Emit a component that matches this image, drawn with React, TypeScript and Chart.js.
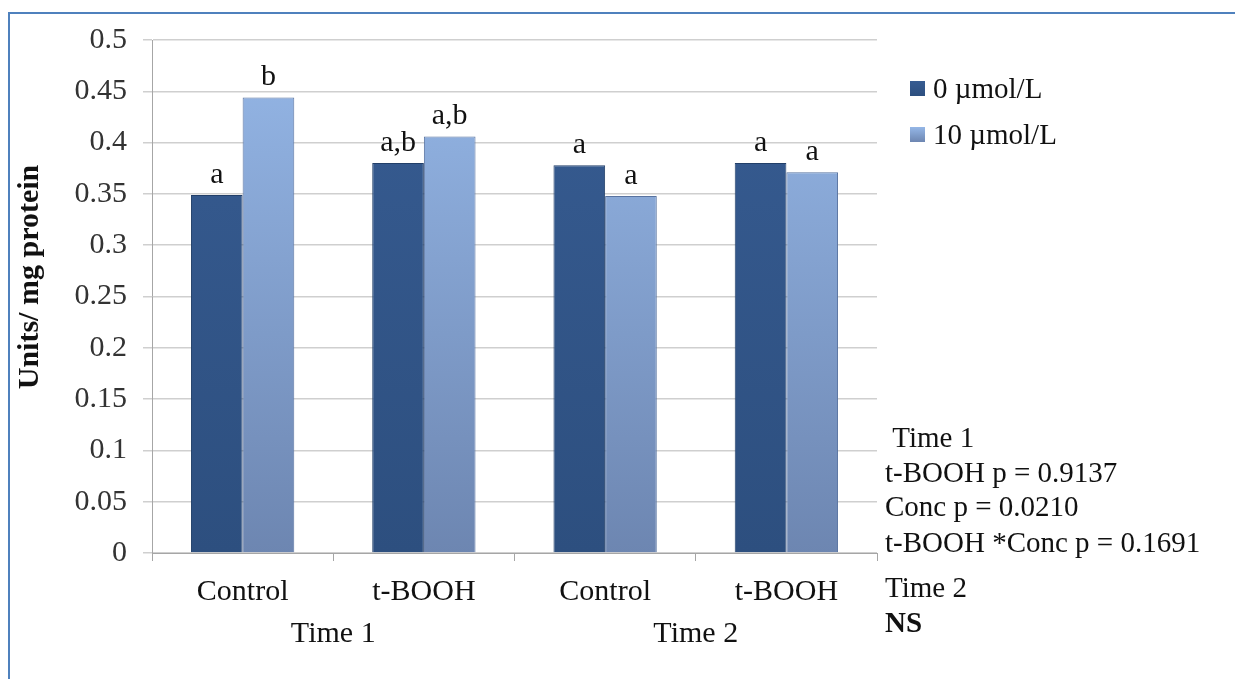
import React, { useEffect, useRef } from "react";
import { Chart, registerables } from "chart.js";

Chart.register(...registerables);

const categories = ["Control", "t-BOOH", "Control", "t-BOOH"];
const groupLabels = ["Time 1", "Time 2"];
const seriesNames = ["0 \u00b5mol/L", "10 \u00b5mol/L"];
const dose0 = [0.349, 0.38, 0.378, 0.38];
const dose10 = [0.444, 0.406, 0.348, 0.371];
const letters0 = ["a", "a,b", "a", "a"];
const letters10 = ["b", "a,b", "a", "a"];
const yTitle = "Units/ mg protein";
const yTicksMin = 0;
const yTicksMax = 0.5;
const yStep = 0.05;
const statLines = [
  { text: " Time 1", bold: false },
  { text: "t-BOOH p = 0.9137", bold: false },
  { text: "Conc p = 0.0210", bold: false },
  { text: "t-BOOH *Conc p = 0.1691", bold: false },
  { text: "Time 2", bold: false },
  { text: "NS", bold: true },
];

const FONT = "'Liberation Serif', 'Times New Roman', serif";
const DARK = ["#375c92", "#2d4f7f"];
const LIGHT = ["#95b7e7", "#6d86b1"];

function grad(ctx: any, cols: string[]) {
  const chart = ctx.chart;
  const area = chart.chartArea;
  if (!area) return cols[0];
  const g = chart.ctx.createLinearGradient(0, area.top, 0, area.bottom);
  g.addColorStop(0, cols[0]);
  g.addColorStop(1, cols[1]);
  return g;
}

const overlayPlugin = {
  id: "overlay",
  afterDraw(chart: any) {
    const c = chart.ctx;
    c.save();
    c.fillStyle = "#111";
    // y axis title
    c.save();
    c.translate(38, 277);
    c.rotate(-Math.PI / 2);
    c.font = `bold 30px ${FONT}`;
    c.textAlign = "center";
    c.textBaseline = "alphabetic";
    c.fillText(yTitle, 0, 0);
    c.restore();
    // bar letters
    const letterSets = [letters0, letters10];
    c.font = `30px ${FONT}`;
    c.textAlign = "center";
    c.textBaseline = "alphabetic";
    letterSets.forEach((letters, di) => {
      const meta = chart.getDatasetMeta(di);
      meta.data.forEach((el: any, i: number) => {
        c.fillText(letters[i], el.x, el.y - 12);
      });
    });
    // group labels
    const xs = chart.scales.x;
    groupLabels.forEach((g, gi) => {
      const x = (xs.getPixelForValue(gi * 2) + xs.getPixelForValue(gi * 2 + 1)) / 2;
      c.fillText(g, x, 642);
    });
    // legend
    const legY = [88, 134];
    seriesNames.forEach((name, i) => {
      const cols = i === 0 ? DARK : LIGHT;
      const g = c.createLinearGradient(0, legY[i] - 7, 0, legY[i] + 8);
      g.addColorStop(0, cols[0]);
      g.addColorStop(1, cols[1]);
      c.fillStyle = g;
      c.fillRect(910, legY[i] - 7, 15, 15);
      c.fillStyle = "#111";
      c.textAlign = "left";
      c.textBaseline = "middle";
      c.font = `29px ${FONT}`;
      c.fillText(name, 933, legY[i] + 2);
    });
    // statistics
    const baselines = [447, 482, 516, 552, 597, 632];
    c.textBaseline = "alphabetic";
    statLines.forEach((ln, i) => {
      c.font = `${ln.bold ? "bold " : ""}29px ${FONT}`;
      c.fillText(ln.text, 885, baselines[i]);
    });
    c.restore();
  },
};

export default function App() {
  const ref = useRef<HTMLCanvasElement>(null);
  useEffect(() => {
    const chart = new Chart(ref.current as HTMLCanvasElement, {
      type: "bar",
      data: {
        labels: categories,
        datasets: [
          {
            label: seriesNames[0],
            data: dose0,
            backgroundColor: (ctx: any) => grad(ctx, DARK),
            borderColor: "#223f69",
            borderWidth: 1,
          },
          {
            label: seriesNames[1],
            data: dose10,
            backgroundColor: (ctx: any) => grad(ctx, LIGHT),
            borderColor: "#5873a0",
            borderWidth: 1,
          },
        ],
      },
      options: {
        animation: false,
        responsive: false,
        events: [],
        layout: { padding: { left: 0, right: 358, top: 40, bottom: 0 } },
        datasets: { bar: { categoryPercentage: 0.57, barPercentage: 1.0 } },
        plugins: { legend: { display: false }, tooltip: { enabled: false } },
        scales: {
          x: {
            offset: true,
            afterFit: (s: any) => {
              s.height = 126;
            },
            grid: {
              offset: true,
              drawOnChartArea: false,
              drawTicks: true,
              tickLength: 8,
              color: "#a6a6a6",
            },
            border: { color: "#a6a6a6", width: 1 },
            ticks: {
              font: { family: FONT, size: 30 },
              color: "#111",
              padding: 13,
              maxRotation: 0,
            },
          },
          y: {
            min: yTicksMin,
            max: yTicksMax,
            afterFit: (s: any) => {
              s.width = 152;
            },
            grid: { color: "#cfcfcf", tickLength: 9, lineWidth: 1.5 },
            border: { color: "#a6a6a6", width: 1 },
            ticks: {
              stepSize: yStep,
              font: { family: FONT, size: 30 },
              color: "#333",
              padding: 16,
              callback: (v: any) => String(parseFloat(Number(v).toFixed(2))),
            },
          },
        },
      },
      plugins: [overlayPlugin],
    } as any);
    return () => chart.destroy();
  }, []);

  return (
    <div
      style={{
        position: "absolute",
        left: 0,
        top: 0,
        width: 1235,
        height: 679,
        background: "#fff",
        overflow: "hidden",
      }}
    >
      <div
        style={{
          position: "absolute",
          left: 8,
          top: 12,
          width: 1300,
          height: 700,
          borderTop: "2px solid #4f81bd",
          borderLeft: "2px solid #4f81bd",
        }}
      />
      <canvas
        ref={ref}
        width={1235}
        height={679}
        style={{ position: "absolute", left: 0, top: 0, display: "block" }}
      />
    </div>
  );
}
